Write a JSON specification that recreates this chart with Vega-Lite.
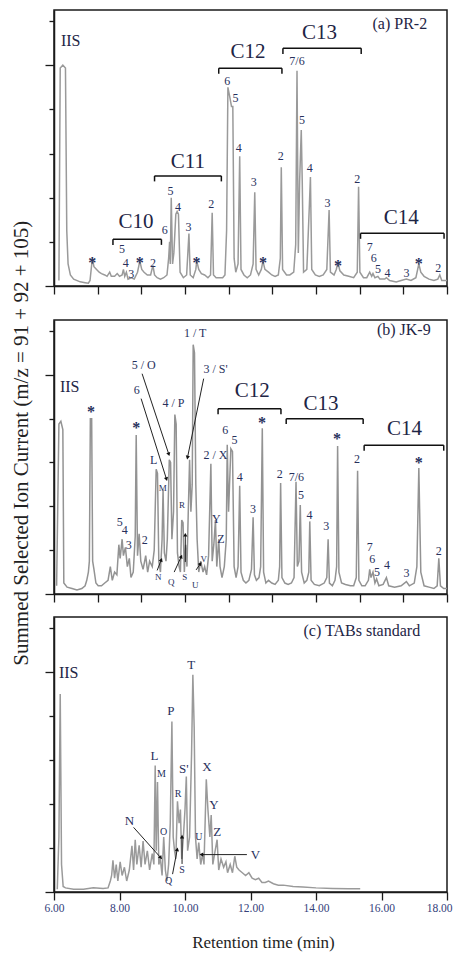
{
"$schema": "https://vega.github.io/schema/vega-lite/v6.json",
"padding": {"left": 11, "top": 9, "right": 0, "bottom": 0},
"background": "white",
"title": {"text": "Summed Selected Ion Current (m/z = 91 + 92 + 105)", "orient": "left", "anchor": "middle", "font": "Liberation Serif", "fontSize": 21, "fontWeight": "normal", "color": "#222222", "offset": 11, "dx": 37},
"config": {
  "view": {"stroke": "#1a1a1a", "strokeWidth": 1.5},
  "axis": {"domainColor": "#1a1a1a", "domainWidth": 1.5, "tickColor": "#1a1a1a", "tickWidth": 1.3, "grid": false, "labelFont": "Liberation Serif", "titleFont": "Liberation Serif", "titleFontWeight": "normal"},
  "text": {"font": "Liberation Serif"}
},
"datasets": {
  "traceA": [
    {"t":6.15,"v":2},{"t":6.19,"v":79},{"t":6.27,"v":80},{"t":6.35,"v":79},{"t":6.39,"v":20},{"t":6.43,"v":8},{"t":6.5,"v":4},{"t":6.6,"v":2.5},{"t":6.8,"v":1.5},{"t":6.95,"v":1.2},{"t":7.05,"v":1},{"t":7.1,"v":2},{"t":7.17,"v":10},{"t":7.22,"v":7},{"t":7.3,"v":6},{"t":7.38,"v":5},{"t":7.45,"v":4.5},{"t":7.55,"v":4},{"t":7.62,"v":3.5},{"t":7.7,"v":5},{"t":7.75,"v":3.5},{"t":7.85,"v":3.5},{"t":7.93,"v":4.5},{"t":8.0,"v":3.5},{"t":8.08,"v":4},{"t":8.12,"v":6},{"t":8.16,"v":3.5},{"t":8.21,"v":5},{"t":8.26,"v":2.5},{"t":8.36,"v":3},{"t":8.45,"v":2.5},{"t":8.55,"v":5},{"t":8.62,"v":9},{"t":8.68,"v":6},{"t":8.75,"v":5},{"t":8.85,"v":4},{"t":8.95,"v":4},{"t":9.02,"v":7.5},{"t":9.07,"v":4},{"t":9.15,"v":3},{"t":9.25,"v":2.5},{"t":9.35,"v":3},{"t":9.45,"v":4},{"t":9.5,"v":10},{"t":9.53,"v":16},{"t":9.55,"v":8},{"t":9.58,"v":32},{"t":9.62,"v":8},{"t":9.66,"v":12},{"t":9.72,"v":26},{"t":9.76,"v":27},{"t":9.8,"v":26},{"t":9.85,"v":5},{"t":9.95,"v":3},{"t":10.05,"v":4},{"t":10.12,"v":19},{"t":10.16,"v":4},{"t":10.25,"v":3},{"t":10.33,"v":6},{"t":10.36,"v":9},{"t":10.42,"v":6},{"t":10.5,"v":4.5},{"t":10.6,"v":4},{"t":10.7,"v":3},{"t":10.78,"v":4},{"t":10.83,"v":26.5},{"t":10.87,"v":4},{"t":10.95,"v":3},{"t":11.05,"v":3},{"t":11.15,"v":3},{"t":11.22,"v":4},{"t":11.27,"v":20},{"t":11.31,"v":72},{"t":11.36,"v":69},{"t":11.42,"v":65},{"t":11.46,"v":65},{"t":11.5,"v":10},{"t":11.55,"v":5},{"t":11.62,"v":8},{"t":11.67,"v":47},{"t":11.71,"v":6},{"t":11.8,"v":4},{"t":11.9,"v":3},{"t":12.0,"v":4},{"t":12.08,"v":8},{"t":12.13,"v":34},{"t":12.17,"v":6},{"t":12.25,"v":4},{"t":12.33,"v":6},{"t":12.38,"v":9},{"t":12.44,"v":6},{"t":12.55,"v":5},{"t":12.65,"v":4},{"t":12.75,"v":3.5},{"t":12.85,"v":4},{"t":12.91,"v":10},{"t":12.94,"v":43},{"t":12.98,"v":6},{"t":13.1,"v":4},{"t":13.2,"v":4},{"t":13.32,"v":5},{"t":13.38,"v":15},{"t":13.42,"v":78},{"t":13.46,"v":12},{"t":13.5,"v":38},{"t":13.55,"v":56.5},{"t":13.58,"v":38},{"t":13.62,"v":5},{"t":13.72,"v":6},{"t":13.8,"v":30},{"t":13.83,"v":39.5},{"t":13.87,"v":6},{"t":13.98,"v":4},{"t":14.1,"v":3.5},{"t":14.22,"v":4},{"t":14.33,"v":6},{"t":14.4,"v":27.5},{"t":14.44,"v":5},{"t":14.55,"v":4},{"t":14.62,"v":6},{"t":14.67,"v":8.5},{"t":14.73,"v":5.5},{"t":14.85,"v":4},{"t":15.0,"v":3.5},{"t":15.15,"v":3},{"t":15.26,"v":5},{"t":15.3,"v":36},{"t":15.34,"v":5},{"t":15.45,"v":3},{"t":15.55,"v":3},{"t":15.64,"v":5},{"t":15.7,"v":3.5},{"t":15.74,"v":4.5},{"t":15.8,"v":3},{"t":15.89,"v":3.5},{"t":15.95,"v":2.5},{"t":16.1,"v":2.5},{"t":16.15,"v":3},{"t":16.25,"v":2},{"t":16.45,"v":1.5},{"t":16.6,"v":2},{"t":16.76,"v":2.5},{"t":16.9,"v":2},{"t":17.05,"v":3},{"t":17.14,"v":8},{"t":17.2,"v":5},{"t":17.3,"v":3.5},{"t":17.45,"v":2.5},{"t":17.6,"v":2},{"t":17.72,"v":2.5},{"t":17.78,"v":4},{"t":17.84,"v":2},{"t":18.0,"v":2}
  ],
  "traceB": [
    {"t":6.08,"v":3},{"t":6.15,"v":62},{"t":6.21,"v":63},{"t":6.27,"v":60},{"t":6.3,"v":4},{"t":6.4,"v":2.5},{"t":6.55,"v":2},{"t":6.7,"v":1.5},{"t":6.85,"v":2},{"t":6.95,"v":3},{"t":7.0,"v":5},{"t":7.05,"v":8},{"t":7.08,"v":12},{"t":7.11,"v":64},{"t":7.15,"v":64},{"t":7.18,"v":12},{"t":7.22,"v":9},{"t":7.28,"v":4},{"t":7.35,"v":3},{"t":7.45,"v":3},{"t":7.55,"v":4},{"t":7.65,"v":5},{"t":7.72,"v":10},{"t":7.78,"v":5},{"t":7.85,"v":8},{"t":7.92,"v":7},{"t":7.98,"v":18},{"t":8.02,"v":13},{"t":8.08,"v":20},{"t":8.12,"v":14},{"t":8.18,"v":17},{"t":8.24,"v":10},{"t":8.3,"v":13},{"t":8.35,"v":6},{"t":8.42,"v":8},{"t":8.48,"v":21},{"t":8.51,"v":58},{"t":8.55,"v":14},{"t":8.6,"v":22},{"t":8.65,"v":12},{"t":8.72,"v":9},{"t":8.8,"v":14},{"t":8.86,"v":8},{"t":8.92,"v":12},{"t":9.0,"v":10},{"t":9.06,"v":16},{"t":9.12,"v":45.5},{"t":9.16,"v":44},{"t":9.2,"v":12},{"t":9.25,"v":8},{"t":9.3,"v":20},{"t":9.33,"v":38},{"t":9.37,"v":15},{"t":9.42,"v":12},{"t":9.46,"v":20},{"t":9.52,"v":49},{"t":9.56,"v":48},{"t":9.6,"v":20},{"t":9.65,"v":30},{"t":9.69,"v":65.5},{"t":9.73,"v":62},{"t":9.77,"v":15},{"t":9.82,"v":10},{"t":9.86,"v":8},{"t":9.9,"v":27},{"t":9.94,"v":26},{"t":9.98,"v":8},{"t":10.02,"v":18},{"t":10.06,"v":10},{"t":10.1,"v":30},{"t":10.14,"v":49},{"t":10.18,"v":30},{"t":10.22,"v":40},{"t":10.25,"v":91},{"t":10.29,"v":88},{"t":10.33,"v":40},{"t":10.37,"v":20},{"t":10.42,"v":8},{"t":10.48,"v":12},{"t":10.55,"v":8},{"t":10.6,"v":10},{"t":10.66,"v":7},{"t":10.72,"v":14},{"t":10.79,"v":47.5},{"t":10.83,"v":12},{"t":10.88,"v":18},{"t":10.93,"v":27},{"t":10.97,"v":10},{"t":11.03,"v":20},{"t":11.07,"v":10},{"t":11.13,"v":6},{"t":11.2,"v":10},{"t":11.26,"v":20},{"t":11.29,"v":54.5},{"t":11.33,"v":30},{"t":11.4,"v":53},{"t":11.45,"v":52},{"t":11.5,"v":10},{"t":11.56,"v":6},{"t":11.62,"v":10},{"t":11.67,"v":39.5},{"t":11.71,"v":8},{"t":11.78,"v":5},{"t":11.86,"v":4},{"t":11.95,"v":5},{"t":12.03,"v":9},{"t":12.08,"v":28},{"t":12.12,"v":7},{"t":12.18,"v":5},{"t":12.26,"v":6},{"t":12.31,"v":10},{"t":12.36,"v":60.5},{"t":12.4,"v":8},{"t":12.47,"v":4},{"t":12.55,"v":5},{"t":12.65,"v":4},{"t":12.75,"v":3.5},{"t":12.85,"v":5},{"t":12.89,"v":10},{"t":12.92,"v":40.5},{"t":12.96,"v":6},{"t":13.05,"v":4},{"t":13.15,"v":3.5},{"t":13.25,"v":4},{"t":13.33,"v":6},{"t":13.39,"v":41},{"t":13.43,"v":10},{"t":13.48,"v":12},{"t":13.52,"v":32.5},{"t":13.56,"v":8},{"t":13.64,"v":4},{"t":13.72,"v":5},{"t":13.78,"v":8},{"t":13.81,"v":26.5},{"t":13.85,"v":5},{"t":13.95,"v":3.5},{"t":14.1,"v":3},{"t":14.25,"v":4},{"t":14.33,"v":6},{"t":14.37,"v":20},{"t":14.41,"v":4},{"t":14.5,"v":3},{"t":14.58,"v":5},{"t":14.63,"v":10},{"t":14.66,"v":54},{"t":14.7,"v":8},{"t":14.78,"v":4},{"t":14.9,"v":3.5},{"t":15.05,"v":3},{"t":15.15,"v":3},{"t":15.23,"v":6},{"t":15.27,"v":45},{"t":15.31,"v":5},{"t":15.4,"v":3},{"t":15.5,"v":3},{"t":15.6,"v":5},{"t":15.64,"v":9},{"t":15.68,"v":6},{"t":15.74,"v":8},{"t":15.8,"v":4},{"t":15.85,"v":5.5},{"t":15.92,"v":3},{"t":16.05,"v":3.5},{"t":16.15,"v":6},{"t":16.22,"v":3},{"t":16.4,"v":2.5},{"t":16.6,"v":3},{"t":16.76,"v":4.5},{"t":16.85,"v":3},{"t":17.0,"v":4},{"t":17.08,"v":10},{"t":17.14,"v":46},{"t":17.2,"v":8},{"t":17.3,"v":3},{"t":17.45,"v":2.5},{"t":17.6,"v":2},{"t":17.7,"v":3},{"t":17.75,"v":13},{"t":17.8,"v":3},{"t":17.9,"v":2},{"t":18.0,"v":2}
  ],
  "traceC": [
    {"t":6.1,"v":1},{"t":6.15,"v":20},{"t":6.19,"v":72},{"t":6.23,"v":10},{"t":6.28,"v":2},{"t":6.35,"v":1.5},{"t":6.6,"v":1},{"t":6.9,"v":1},{"t":7.2,"v":1.5},{"t":7.5,"v":1.3},{"t":7.65,"v":1.5},{"t":7.72,"v":4},{"t":7.76,"v":6},{"t":7.8,"v":11.5},{"t":7.85,"v":5},{"t":7.9,"v":10},{"t":7.95,"v":4},{"t":8.02,"v":11},{"t":8.08,"v":6},{"t":8.15,"v":9},{"t":8.22,"v":4},{"t":8.3,"v":8},{"t":8.38,"v":16.8},{"t":8.43,"v":8},{"t":8.48,"v":19},{"t":8.53,"v":10},{"t":8.6,"v":17},{"t":8.66,"v":9},{"t":8.72,"v":18.5},{"t":8.78,"v":10},{"t":8.85,"v":15},{"t":8.92,"v":8},{"t":9.0,"v":14},{"t":9.05,"v":10},{"t":9.09,"v":46},{"t":9.12,"v":15},{"t":9.16,"v":40},{"t":9.2,"v":10},{"t":9.25,"v":12},{"t":9.3,"v":6},{"t":9.35,"v":20},{"t":9.4,"v":8},{"t":9.45,"v":4},{"t":9.5,"v":10},{"t":9.55,"v":25},{"t":9.6,"v":62},{"t":9.64,"v":20},{"t":9.68,"v":15},{"t":9.72,"v":12},{"t":9.77,"v":33},{"t":9.82,"v":25},{"t":9.86,"v":30},{"t":9.9,"v":12},{"t":9.95,"v":20},{"t":10.0,"v":30},{"t":10.04,"v":42},{"t":10.08,"v":15},{"t":10.14,"v":20},{"t":10.2,"v":50},{"t":10.24,"v":79},{"t":10.28,"v":60},{"t":10.32,"v":20},{"t":10.37,"v":12},{"t":10.42,"v":18},{"t":10.48,"v":10},{"t":10.54,"v":14},{"t":10.58,"v":10},{"t":10.65,"v":41},{"t":10.7,"v":30},{"t":10.76,"v":20},{"t":10.8,"v":28},{"t":10.85,"v":10},{"t":10.92,"v":15},{"t":10.98,"v":19},{"t":11.03,"v":8},{"t":11.1,"v":12},{"t":11.18,"v":9},{"t":11.25,"v":11},{"t":11.3,"v":7},{"t":11.38,"v":10},{"t":11.45,"v":7},{"t":11.52,"v":13},{"t":11.58,"v":9},{"t":11.65,"v":8},{"t":11.75,"v":7},{"t":11.85,"v":6},{"t":11.95,"v":7},{"t":12.05,"v":5},{"t":12.15,"v":4.5},{"t":12.25,"v":5},{"t":12.35,"v":3.5},{"t":12.45,"v":3.5},{"t":12.55,"v":4},{"t":12.7,"v":3},{"t":12.85,"v":2.5},{"t":13.0,"v":2.5},{"t":13.3,"v":2},{"t":13.6,"v":1.8},{"t":14.0,"v":1.5},{"t":14.5,"v":1.3},{"t":15.0,"v":1.2},{"t":15.35,"v":1.2}
  ],
  "labels": [
    {"p":"a","t":6.51,"v":88.9,"txt":"IIS","kind":"iis"},
    {"p":"a","t":16.56,"v":94.9,"txt":"(a)  PR-2","kind":"title"},
    {"p":"a","t":8.5,"v":23.3,"txt":"C10","kind":"big"},
    {"p":"a","t":10.09,"v":45,"txt":"C11","kind":"big"},
    {"p":"a","t":11.92,"v":84.9,"txt":"C12","kind":"big"},
    {"p":"a","t":14.11,"v":91.5,"txt":"C13","kind":"big"},
    {"p":"a","t":16.6,"v":24.5,"txt":"C14","kind":"big"},
    {"p":"a","t":7.17,"v":9.4,"txt":"*","kind":"star"},
    {"p":"a","t":8.08,"v":13.3,"txt":"5","kind":"num"},
    {"p":"a","t":8.19,"v":8.2,"txt":"4","kind":"num"},
    {"p":"a","t":8.36,"v":4.3,"txt":"3","kind":"num"},
    {"p":"a","t":8.62,"v":9.4,"txt":"*","kind":"star"},
    {"p":"a","t":9.02,"v":8.2,"txt":"2","kind":"num"},
    {"p":"a","t":9.38,"v":20.3,"txt":"6","kind":"num"},
    {"p":"a","t":9.56,"v":34.5,"txt":"5","kind":"num"},
    {"p":"a","t":9.79,"v":28.7,"txt":"4","kind":"num"},
    {"p":"a","t":10.11,"v":21.5,"txt":"3","kind":"num"},
    {"p":"a","t":10.35,"v":9.4,"txt":"*","kind":"star"},
    {"p":"a","t":10.8,"v":29.7,"txt":"2","kind":"num"},
    {"p":"a","t":11.29,"v":74.4,"txt":"6","kind":"num"},
    {"p":"a","t":11.54,"v":68,"txt":"5","kind":"num"},
    {"p":"a","t":11.64,"v":49.9,"txt":"4","kind":"num"},
    {"p":"a","t":12.1,"v":37.8,"txt":"3","kind":"num"},
    {"p":"a","t":12.38,"v":9.4,"txt":"*","kind":"star"},
    {"p":"a","t":12.92,"v":47.1,"txt":"2","kind":"num"},
    {"p":"a","t":13.42,"v":81.5,"txt":"7/6","kind":"num"},
    {"p":"a","t":13.57,"v":60.1,"txt":"5","kind":"num"},
    {"p":"a","t":13.81,"v":42.6,"txt":"4","kind":"num"},
    {"p":"a","t":14.35,"v":30.2,"txt":"3","kind":"num"},
    {"p":"a","t":14.67,"v":8.5,"txt":"*","kind":"star"},
    {"p":"a","t":15.26,"v":38.7,"txt":"2","kind":"num"},
    {"p":"a","t":15.64,"v":14.2,"txt":"7","kind":"num"},
    {"p":"a","t":15.76,"v":10,"txt":"6","kind":"num"},
    {"p":"a","t":15.89,"v":6,"txt":"5","kind":"num"},
    {"p":"a","t":16.18,"v":4.8,"txt":"4","kind":"num"},
    {"p":"a","t":16.76,"v":4.8,"txt":"3","kind":"num"},
    {"p":"a","t":17.14,"v":9.1,"txt":"*","kind":"star"},
    {"p":"a","t":17.73,"v":6.6,"txt":"2","kind":"num"},
    {"p":"b","t":6.48,"v":75.5,"txt":"IIS","kind":"iis"},
    {"p":"b","t":16.68,"v":96.2,"txt":"(b) JK-9","kind":"title"},
    {"p":"b","t":12.05,"v":74,"txt":"C12","kind":"big"},
    {"p":"b","t":14.15,"v":69.5,"txt":"C13","kind":"big"},
    {"p":"b","t":16.7,"v":60.1,"txt":"C14","kind":"big"},
    {"p":"b","t":7.13,"v":67.6,"txt":"*","kind":"star"},
    {"p":"b","t":8.51,"v":61.8,"txt":"*","kind":"star"},
    {"p":"b","t":8.01,"v":26.3,"txt":"5","kind":"num"},
    {"p":"b","t":8.16,"v":23.2,"txt":"4","kind":"num"},
    {"p":"b","t":8.28,"v":18,"txt":"3","kind":"num"},
    {"p":"b","t":8.77,"v":19.6,"txt":"2","kind":"num"},
    {"p":"b","t":9.04,"v":48.8,"txt":"L","kind":"num"},
    {"p":"b","t":9.32,"v":38.7,"txt":"M","kind":"small"},
    {"p":"b","t":8.53,"v":74.3,"txt":"6","kind":"num"},
    {"p":"b","t":8.74,"v":83.7,"txt":"5 / O","kind":"num"},
    {"p":"b","t":9.65,"v":69.8,"txt":"4 / P","kind":"num"},
    {"p":"b","t":10.31,"v":95.4,"txt":"1 / T","kind":"num"},
    {"p":"b","t":10.93,"v":82,"txt":"3 / S'","kind":"num"},
    {"p":"b","t":9.91,"v":32.4,"txt":"R","kind":"small"},
    {"p":"b","t":10.93,"v":50.6,"txt":"2 / X","kind":"num"},
    {"p":"b","t":10.96,"v":27.3,"txt":"Y","kind":"num"},
    {"p":"b","t":11.1,"v":20.2,"txt":"Z","kind":"num"},
    {"p":"b","t":9.18,"v":6.2,"txt":"N","kind":"small"},
    {"p":"b","t":9.58,"v":4.4,"txt":"Q","kind":"small"},
    {"p":"b","t":9.99,"v":6.2,"txt":"S","kind":"small"},
    {"p":"b","t":10.31,"v":3.2,"txt":"U","kind":"small"},
    {"p":"b","t":10.57,"v":12.9,"txt":"V","kind":"small"},
    {"p":"b","t":11.23,"v":59.7,"txt":"6","kind":"num"},
    {"p":"b","t":11.51,"v":56.1,"txt":"5","kind":"num"},
    {"p":"b","t":11.67,"v":42.7,"txt":"4","kind":"num"},
    {"p":"b","t":12.08,"v":31.1,"txt":"3","kind":"num"},
    {"p":"b","t":12.35,"v":63.4,"txt":"*","kind":"star"},
    {"p":"b","t":12.89,"v":43.9,"txt":"2","kind":"num"},
    {"p":"b","t":13.4,"v":42.7,"txt":"7/6","kind":"num"},
    {"p":"b","t":13.54,"v":36.2,"txt":"5","kind":"num"},
    {"p":"b","t":13.8,"v":28.9,"txt":"4","kind":"num"},
    {"p":"b","t":14.31,"v":24.7,"txt":"3","kind":"num"},
    {"p":"b","t":14.64,"v":57.6,"txt":"*","kind":"star"},
    {"p":"b","t":15.25,"v":49.4,"txt":"2","kind":"num"},
    {"p":"b","t":15.64,"v":17.2,"txt":"7","kind":"num"},
    {"p":"b","t":15.72,"v":12.6,"txt":"6","kind":"num"},
    {"p":"b","t":15.86,"v":8.2,"txt":"5","kind":"num"},
    {"p":"b","t":16.17,"v":10.7,"txt":"4","kind":"num"},
    {"p":"b","t":16.76,"v":7.7,"txt":"3","kind":"num"},
    {"p":"b","t":17.14,"v":48.8,"txt":"*","kind":"star"},
    {"p":"b","t":17.75,"v":15.6,"txt":"2","kind":"num"},
    {"p":"c","t":6.45,"v":79.5,"txt":"IIS","kind":"iis"},
    {"p":"c","t":15.4,"v":95,"txt":"(c)  TABs standard","kind":"title"},
    {"p":"c","t":10.19,"v":82.5,"txt":"T","kind":"num"},
    {"p":"c","t":9.57,"v":65.9,"txt":"P","kind":"num"},
    {"p":"c","t":9.07,"v":49.6,"txt":"L","kind":"num"},
    {"p":"c","t":9.28,"v":42.9,"txt":"M","kind":"small"},
    {"p":"c","t":9.96,"v":44.7,"txt":"S'","kind":"num"},
    {"p":"c","t":10.67,"v":45.6,"txt":"X","kind":"num"},
    {"p":"c","t":9.79,"v":35.6,"txt":"R","kind":"small"},
    {"p":"c","t":10.88,"v":31.7,"txt":"Y","kind":"num"},
    {"p":"c","t":9.35,"v":21.9,"txt":"O","kind":"small"},
    {"p":"c","t":10.42,"v":19.9,"txt":"U","kind":"small"},
    {"p":"c","t":10.98,"v":22,"txt":"Z","kind":"num"},
    {"p":"c","t":8.3,"v":25.7,"txt":"N","kind":"num"},
    {"p":"c","t":9.91,"v":8,"txt":"S","kind":"small"},
    {"p":"c","t":9.5,"v":3.9,"txt":"Q","kind":"small"},
    {"p":"c","t":12.15,"v":13.6,"txt":"V","kind":"num"}
  ],
  "brackets": [
    {"p":"a","t1":7.8,"t2":9.28,"v":16.9,"vb":14.9},
    {"p":"a","t1":9.07,"t2":11.11,"v":39.9,"vb":37.9},
    {"p":"a","t1":11.03,"t2":12.96,"v":78.9,"vb":76.9},
    {"p":"a","t1":12.99,"t2":15.38,"v":86.1,"vb":84.1},
    {"p":"a","t1":15.36,"t2":17.91,"v":19.1,"vb":17.1},
    {"p":"b","t1":11.01,"t2":12.93,"v":67.6,"vb":65.6},
    {"p":"b","t1":13.09,"t2":15.44,"v":64,"vb":62},
    {"p":"b","t1":15.47,"t2":17.9,"v":54.3,"vb":52.3}
  ],
  "arrows": [
    {"p":"b","t1":8.66,"v1":71.3,"t2":9.43,"v2":42.1},
    {"p":"b","t1":8.69,"v1":80.4,"t2":9.5,"v2":51.2},
    {"p":"b","t1":10.57,"v1":78.6,"t2":10.08,"v2":50},
    {"p":"b","t1":10.01,"v1":11.7,"t2":10.01,"v2":21.4},
    {"p":"b","t1":9.67,"v1":8,"t2":9.88,"v2":13.5},
    {"p":"b","t1":9.15,"v1":8.6,"t2":9.27,"v2":12.3},
    {"p":"b","t1":10.34,"v1":8.8,"t2":10.46,"v2":10.9},
    {"p":"c","t1":8.43,"v1":23.5,"t2":9.25,"v2":12.6},
    {"p":"c","t1":9.91,"v1":10.2,"t2":9.91,"v2":19.9},
    {"p":"c","t1":9.62,"v1":6.5,"t2":9.76,"v2":15.3},
    {"p":"c","t1":11.89,"v1":13.6,"t2":10.52,"v2":13.6}
  ]
},
"spacing": 12,
"vconcat": [
  {
    "spacing": 23,
    "vconcat": [
      {
        "width": 393, "height": 276,
        "layer": [
          {"data": {"name": "traceA"}, "mark": {"type": "line", "color": "#9a9a9a", "strokeWidth": 1.5},
           "encoding": {
             "x": {"field": "t", "type": "quantitative", "scale": {"domain": [6, 18], "nice": false, "zero": false},
                   "axis": {"title": null, "labels": false, "values": [6,6.3333,6.6667,7,7.3333,7.6667,8,8.3333,8.6667,9,9.3333,9.6667,10,10.3333,10.6667,11,11.3333,11.6667,12,12.3333,12.6667,13,13.3333,13.6667,14,14.3333,14.6667,15,15.3333,15.6667,16,16.3333,16.6667,17,17.3333,17.6667,18],
                            "tickSize": {"condition": {"test": "abs((datum.value - 6) * 0.75 - round((datum.value - 6) * 0.75)) < 0.01", "value": 8}, "value": 5}}},
             "y": {"field": "v", "type": "quantitative", "scale": {"domain": [0, 100], "nice": false},
                   "axis": {"title": null, "labels": false,
                            "values": [0,4,8,12,16,20,24,28,32,36,40,44,48,52,56,60,64,68,72,76,80,84,88,92,96,100],
                            "tickSize": {"condition": {"test": "datum.value % 20 === 0", "value": 9}, "value": 5}}}
           }},
          {"data": {"name": "labels"}, "transform": [{"filter": "datum.p === 'a' && datum.kind === 'num'"}],
           "mark": {"type": "text", "fontSize": 12, "color": "#27305c"},
           "encoding": {"x": {"field": "t", "type": "quantitative"}, "y": {"field": "v", "type": "quantitative"}, "text": {"field": "txt"}}},
          {"data": {"name": "labels"}, "transform": [{"filter": "datum.p === 'a' && datum.kind === 'star'"}],
           "mark": {"type": "text", "fontSize": 16, "fontWeight": "bold", "color": "#27305c", "dy": 3},
           "encoding": {"x": {"field": "t", "type": "quantitative"}, "y": {"field": "v", "type": "quantitative"}, "text": {"field": "txt"}}},
          {"data": {"name": "labels"}, "transform": [{"filter": "datum.p === 'a' && datum.kind === 'big'"}],
           "mark": {"type": "text", "fontSize": 21, "color": "#1e2545"},
           "encoding": {"x": {"field": "t", "type": "quantitative"}, "y": {"field": "v", "type": "quantitative"}, "text": {"field": "txt"}}},
          {"data": {"name": "labels"}, "transform": [{"filter": "datum.p === 'a' && (datum.kind === 'iis' || datum.kind === 'title')"}],
           "mark": {"type": "text", "fontSize": 16, "color": "#1e2545"},
           "encoding": {"x": {"field": "t", "type": "quantitative"}, "y": {"field": "v", "type": "quantitative"}, "text": {"field": "txt"}}},
          {"data": {"name": "brackets"}, "transform": [{"filter": "datum.p === 'a'"}],
           "mark": {"type": "rule", "color": "#111", "strokeWidth": 1.5},
           "encoding": {"x": {"field": "t1", "type": "quantitative"}, "x2": {"field": "t2"}, "y": {"field": "v", "type": "quantitative"}}},
          {"data": {"name": "brackets"}, "transform": [{"filter": "datum.p === 'a'"}],
           "mark": {"type": "rule", "color": "#111", "strokeWidth": 1.5},
           "encoding": {"x": {"field": "t1", "type": "quantitative"}, "y": {"field": "v", "type": "quantitative"}, "y2": {"field": "vb"}}},
          {"data": {"name": "brackets"}, "transform": [{"filter": "datum.p === 'a'"}],
           "mark": {"type": "rule", "color": "#111", "strokeWidth": 1.5},
           "encoding": {"x": {"field": "t2", "type": "quantitative"}, "y": {"field": "v", "type": "quantitative"}, "y2": {"field": "vb"}}}
        ]
      },
      {
        "width": 393, "height": 274,
        "layer": [
          {"data": {"name": "traceB"}, "mark": {"type": "line", "color": "#939393", "strokeWidth": 1.5},
           "encoding": {
             "x": {"field": "t", "type": "quantitative", "scale": {"domain": [6, 18], "nice": false, "zero": false},
                   "axis": {"title": null, "labels": false, "values": [6,6.3333,6.6667,7,7.3333,7.6667,8,8.3333,8.6667,9,9.3333,9.6667,10,10.3333,10.6667,11,11.3333,11.6667,12,12.3333,12.6667,13,13.3333,13.6667,14,14.3333,14.6667,15,15.3333,15.6667,16,16.3333,16.6667,17,17.3333,17.6667,18],
                            "tickSize": {"condition": {"test": "abs((datum.value - 6) * 0.75 - round((datum.value - 6) * 0.75)) < 0.01", "value": 8}, "value": 5}}},
             "y": {"field": "v", "type": "quantitative", "scale": {"domain": [0, 100], "nice": false},
                   "axis": {"title": null, "labels": false,
                            "values": [0,4,8,12,16,20,24,28,32,36,40,44,48,52,56,60,64,68,72,76,80,84,88,92,96,100],
                            "tickSize": {"condition": {"test": "datum.value % 20 === 0", "value": 9}, "value": 5}}}
           }},
          {"data": {"name": "labels"}, "transform": [{"filter": "datum.p === 'b' && datum.kind === 'num'"}],
           "mark": {"type": "text", "fontSize": 12, "color": "#27305c"},
           "encoding": {"x": {"field": "t", "type": "quantitative"}, "y": {"field": "v", "type": "quantitative"}, "text": {"field": "txt"}}},
          {"data": {"name": "labels"}, "transform": [{"filter": "datum.p === 'b' && datum.kind === 'small'"}],
           "mark": {"type": "text", "fontSize": 9, "color": "#27305c"},
           "encoding": {"x": {"field": "t", "type": "quantitative"}, "y": {"field": "v", "type": "quantitative"}, "text": {"field": "txt"}}},
          {"data": {"name": "labels"}, "transform": [{"filter": "datum.p === 'b' && datum.kind === 'star'"}],
           "mark": {"type": "text", "fontSize": 16, "fontWeight": "bold", "color": "#27305c", "dy": 3},
           "encoding": {"x": {"field": "t", "type": "quantitative"}, "y": {"field": "v", "type": "quantitative"}, "text": {"field": "txt"}}},
          {"data": {"name": "labels"}, "transform": [{"filter": "datum.p === 'b' && datum.kind === 'big'"}],
           "mark": {"type": "text", "fontSize": 21, "color": "#1e2545"},
           "encoding": {"x": {"field": "t", "type": "quantitative"}, "y": {"field": "v", "type": "quantitative"}, "text": {"field": "txt"}}},
          {"data": {"name": "labels"}, "transform": [{"filter": "datum.p === 'b' && (datum.kind === 'iis' || datum.kind === 'title')"}],
           "mark": {"type": "text", "fontSize": 16, "color": "#1e2545"},
           "encoding": {"x": {"field": "t", "type": "quantitative"}, "y": {"field": "v", "type": "quantitative"}, "text": {"field": "txt"}}},
          {"data": {"name": "brackets"}, "transform": [{"filter": "datum.p === 'b'"}],
           "mark": {"type": "rule", "color": "#111", "strokeWidth": 1.5},
           "encoding": {"x": {"field": "t1", "type": "quantitative"}, "x2": {"field": "t2"}, "y": {"field": "v", "type": "quantitative"}}},
          {"data": {"name": "brackets"}, "transform": [{"filter": "datum.p === 'b'"}],
           "mark": {"type": "rule", "color": "#111", "strokeWidth": 1.5},
           "encoding": {"x": {"field": "t1", "type": "quantitative"}, "y": {"field": "v", "type": "quantitative"}, "y2": {"field": "vb"}}},
          {"data": {"name": "brackets"}, "transform": [{"filter": "datum.p === 'b'"}],
           "mark": {"type": "rule", "color": "#111", "strokeWidth": 1.5},
           "encoding": {"x": {"field": "t2", "type": "quantitative"}, "y": {"field": "v", "type": "quantitative"}, "y2": {"field": "vb"}}},
          {"data": {"name": "arrows"}, "transform": [{"filter": "datum.p === 'b'"}],
           "mark": {"type": "rule", "color": "#222", "strokeWidth": 1},
           "encoding": {"x": {"field": "t1", "type": "quantitative"}, "x2": {"field": "t2"}, "y": {"field": "v1", "type": "quantitative"}, "y2": {"field": "v2"}}},
          {"data": {"name": "arrows"}, "transform": [{"filter": "datum.p === 'b'"}, {"calculate": "atan2((datum.t2 - datum.t1) * 32.75, (datum.v2 - datum.v1) * 2.74) * 180 / PI", "as": "ang"}],
           "mark": {"type": "point", "shape": "triangle", "filled": true, "size": 18, "color": "#111", "opacity": 1},
           "encoding": {"x": {"field": "t2", "type": "quantitative"}, "y": {"field": "v2", "type": "quantitative"}, "angle": {"field": "ang", "type": "quantitative", "scale": null}}}
        ]
      }
    ]
  },
  {
    "width": 393, "height": 275,
    "layer": [
      {"data": {"name": "traceC"}, "mark": {"type": "line", "color": "#9a9a9a", "strokeWidth": 1.5},
       "encoding": {
         "x": {"field": "t", "type": "quantitative", "scale": {"domain": [6, 18], "nice": false, "zero": false},
               "axis": {"title": "Retention time  (min)", "titleFontSize": 17, "titleColor": "#1e1e1e", "titlePadding": 21, "titleX": 209,
                        "values": [6,6.5,7,7.5,8,8.5,9,9.5,10,10.5,11,11.5,12,12.5,13,13.5,14,14.5,15,15.5,16,16.5,17,17.5,18],
                        "labelExpr": "datum.value % 2 === 0 ? format(datum.value, '.2f') : ''",
                        "labelOverlap": false, "labelFlush": false, "labelFontSize": 11.5, "labelColor": "#34407a", "labelPadding": 2,
                        "labelAlign": {"condition": {"test": "datum.value === 18", "value": "right"}, "value": "center"},
                        "labelOffset": {"condition": {"test": "datum.value === 18", "value": 5}, "value": 0},
                        "tickSize": {"condition": {"test": "datum.value % 2 === 0", "value": 8}, "value": 5}}},
         "y": {"field": "v", "type": "quantitative", "scale": {"domain": [0, 100], "nice": false},
               "axis": {"title": null, "labels": false,
                        "values": [0,4,8,12,16,20,24,28,32,36,40,44,48,52,56,60,64,68,72,76,80,84,88,92,96,100],
                        "tickSize": {"condition": {"test": "datum.value % 20 === 0", "value": 9}, "value": 5}}}
       }},
      {"data": {"name": "labels"}, "transform": [{"filter": "datum.p === 'c' && datum.kind === 'num'"}],
       "mark": {"type": "text", "fontSize": 13, "color": "#27305c"},
       "encoding": {"x": {"field": "t", "type": "quantitative"}, "y": {"field": "v", "type": "quantitative"}, "text": {"field": "txt"}}},
      {"data": {"name": "labels"}, "transform": [{"filter": "datum.p === 'c' && datum.kind === 'small'"}],
       "mark": {"type": "text", "fontSize": 10, "color": "#27305c"},
       "encoding": {"x": {"field": "t", "type": "quantitative"}, "y": {"field": "v", "type": "quantitative"}, "text": {"field": "txt"}}},
      {"data": {"name": "labels"}, "transform": [{"filter": "datum.p === 'c' && (datum.kind === 'iis' || datum.kind === 'title')"}],
       "mark": {"type": "text", "fontSize": 16, "color": "#1e2545"},
       "encoding": {"x": {"field": "t", "type": "quantitative"}, "y": {"field": "v", "type": "quantitative"}, "text": {"field": "txt"}}},
      {"data": {"name": "arrows"}, "transform": [{"filter": "datum.p === 'c'"}],
       "mark": {"type": "rule", "color": "#222", "strokeWidth": 1},
       "encoding": {"x": {"field": "t1", "type": "quantitative"}, "x2": {"field": "t2"}, "y": {"field": "v1", "type": "quantitative"}, "y2": {"field": "v2"}}},
      {"data": {"name": "arrows"}, "transform": [{"filter": "datum.p === 'c'"}, {"calculate": "atan2((datum.t2 - datum.t1) * 32.75, (datum.v2 - datum.v1) * 2.75) * 180 / PI", "as": "ang"}],
       "mark": {"type": "point", "shape": "triangle", "filled": true, "size": 18, "color": "#111", "opacity": 1},
       "encoding": {"x": {"field": "t2", "type": "quantitative"}, "y": {"field": "v2", "type": "quantitative"}, "angle": {"field": "ang", "type": "quantitative", "scale": null}}}
    ]
  }
]
}
